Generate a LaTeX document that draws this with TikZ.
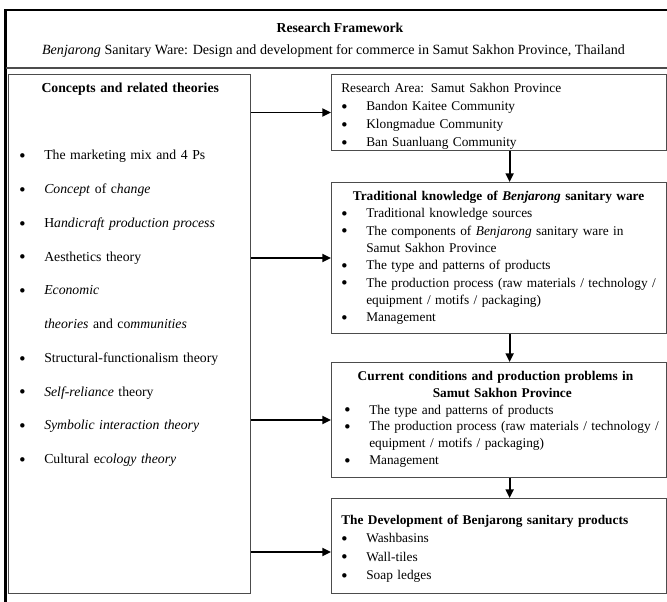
\documentclass[tikz,border=0pt]{standalone}
\usepackage{fontspec}
\setmainfont{Liberation Serif}
\usetikzlibrary{arrows.meta,positioning}
\hfuzz=20pt
\newcommand\bul[1]{\par\hangindent=18.75pt\hangafter=1\noindent\hbox to 18.75pt{\hskip0.3pt\raisebox{0.9pt}{\fontsize{8.5}{8.5}\selectfont$\bullet$}\hfil}#1}
\tikzset{
	framework/.style={x=0.75pt,y=-0.75pt,font=\fontsize{10.3}{13}\selectfont},
	frame/.style={line width=1.6pt},
	box/.style={draw=black!70,line width=0.75pt,anchor=north west,inner sep=0pt},
	txt/.style={anchor=base west,inner sep=0pt,text width=#1,align=left},
	arr/.style={-{Triangle[length=6.5pt,width=6pt]},line width=1.4pt}
}
\begin{document}
\begin{tikzpicture}[framework]
	\useasboundingbox (0,0) rectangle (667,602);
	\draw[frame] (667,10) -- (5.5,10) -- (5.5,602);
	\draw[draw=black!70,line width=0.8pt] (5.5,68) -- (667,68);
	\node[anchor=base,font=\fontsize{10.3}{13}\selectfont\bfseries] (title) at (340,32.5) {Research Framework};
	\node[anchor=base,font=\fontsize{10.55}{13}\selectfont] (subtitle) at (333.5,54.5) {\textit{Benjarong} Sanitary Ware: Design and development for commerce in Samut Sakhon Province, Thailand};

	\node[box,minimum width=181.5pt,minimum height=389.25pt] (concepts) at (8,74) {};
	\node[txt=166.5pt,font=\fontsize{10.3}{25.3}\selectfont] (theories) at (19,92.5) {%
		{\centering\bfseries Concepts and related theories\par}
		\vspace{25.3pt}
		\bul{The marketing mix and 4 Ps}
		\bul{\textit{Concept} of c\textit{hange}}
		\bul{H\textit{andicraft production process}}
		\bul{Aesthetics theory}
		\bul{\textit{Economic}\newline \textit{theories} and co\textit{mmunities}}
		\bul{Structural-functionalism theory}
		\bul{\textit{Self-reliance} theory}
		\bul{\textit{Symbolic interaction theory}}
		\bul{Cultural e\textit{cology theory}}
	};

	\node[box,minimum width=251.25pt,minimum height=57pt] (area) at (331,74) {};
	\node[txt=236pt,font=\fontsize{10}{13.5}\selectfont] (areatext) at (341,92.5) {%
		Research Area: Samut Sakhon Province
		\bul{Bandon Kaitee Community}
		\bul{Klongmadue Community}
		\bul{Ban Suanluang Community}
	};

	\node[box,minimum width=251.25pt,minimum height=113.25pt] (trad) at (331,182) {};
	\node[txt=236pt,font=\fontsize{10}{13}\selectfont] (tradtext) at (341,200.5) {%
		{\centering\bfseries Traditional knowledge of \textit{Benjarong} sanitary ware\par}
		\bul{Traditional knowledge sources}
		\bul{\mbox{The components of \textit{Benjarong} sanitary ware in}\newline Samut Sakhon Province}
		\bul{The type and patterns of products}
		\bul{\mbox{The production process (raw materials / technology /}\newline \mbox{equipment / motifs / packaging)}}
		\bul{Management}
	};

	\node[box,minimum width=251.25pt,minimum height=86.25pt] (cond) at (331,362) {};
	\node[txt=237pt,font=\fontsize{10}{12.6}\selectfont] (condtext) at (344,380.5) {%
		{\centering\bfseries Current conditions and production problems in\newline Samut Sakhon Province\par}
		\bul{The type and patterns of products}
		\bul{\mbox{The production process (raw materials / technology /}\newline \mbox{equipment / motifs / packaging)}}
		\bul{Management}
	};

	\node[box,minimum width=251.25pt,minimum height=71.25pt] (dev) at (331,498) {};
	\node[txt=236pt,font=\fontsize{10}{13.7}\selectfont] (devtext) at (341,524.5) {%
		{\bfseries The Development of Benjarong sanitary products\par}
		\bul{Washbasins}
		\bul{Wall-tiles}
		\bul{Soap ledges}
	};

	\coordinate (devin) at ([yshift=-4.5pt]dev.west);
	\draw[arr] (concepts.east |- area.west) -- (area.west);
	\draw[arr] (concepts.east |- trad.west) -- (trad.west);
	\draw[arr] (concepts.east |- cond.west) -- (cond.west);
	\draw[arr] (concepts.east |- devin) -- (devin);
	\draw[arr] ([xshift=8pt]area.south) -- ([xshift=8pt]trad.north);
	\draw[arr] ([xshift=8pt]trad.south) -- ([xshift=8pt]cond.north);
	\draw[arr] ([xshift=8pt]cond.south) -- ([xshift=8pt]dev.north);
\end{tikzpicture}
\end{document}
